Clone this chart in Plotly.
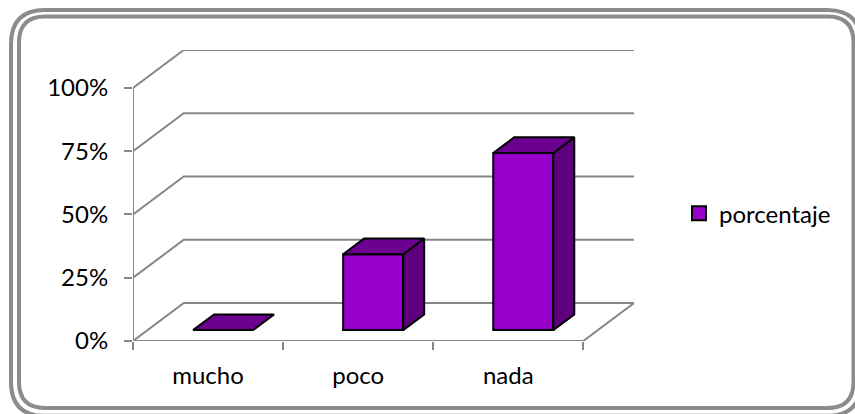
import plotly.graph_objects as go

# Chart data
categories = ["mucho", "poco", "nada"]
porcentaje = [0, 30, 70]
y_ticks = [0, 25, 50, 75, 100]
y_labels = ["0%", "25%", "50%", "75%", "100%"]
series_name = "porcentaje"

# Oblique projection of the chart box, in axis units
WALL_DX, WALL_DY = 0.338, 15.0
BAR_WIDTH = 0.40
BAR_SHIFT_X, BAR_BASE = 0.10, 4.3
BAR_DX, BAR_DY = 0.14, 6.2

GRID = "#868686"
FRONT, SIDE, TOP = "#9900CC", "#5E007E", "#6C008F"
FONT = "Lato"
FONT_SIZE = 24

W, H = 855, 414
M_L, M_R, M_T, M_B = 133, 221, 49.5, 73
n = len(categories)

fig = go.Figure()


def grid_path(xs, ys):
    """Polyline in data coordinates, drawn underneath the columns."""
    d = "M" + " L".join(f"{x},{y}" for x, y in zip(xs, ys))
    return dict(type="path", xref="x", yref="y", layer="below", path=d,
                line=dict(color=GRID, width=2))


# Back wall grid lines with their diagonal run over the side wall
grid = [grid_path([0, WALL_DX, n + WALL_DX], [t, t + WALL_DY, t + WALL_DY])
        for t in y_ticks]
# Left axis line and the front and right edges of the floor
grid.append(grid_path([0, 0], [0, y_ticks[-1]]))
grid.append(grid_path([0, n, n + WALL_DX], [0, 0, WALL_DY]))

# Front faces
centers = [i + 0.5 + BAR_SHIFT_X for i in range(n)]
fig.add_trace(go.Bar(
    x=centers, y=porcentaje, base=BAR_BASE, width=BAR_WIDTH, name=series_name,
    marker=dict(color=FRONT, line=dict(color="black", width=2)),
    hoverinfo="skip", showlegend=False))

# Side and top faces of each column
for c, v in zip(centers, porcentaje):
    x0, x1 = c - BAR_WIDTH / 2, c + BAR_WIDTH / 2
    y0, y1 = BAR_BASE, BAR_BASE + v
    if v > 0:
        fig.add_trace(go.Scatter(
            x=[x1, x1 + BAR_DX, x1 + BAR_DX, x1, x1],
            y=[y0, y0 + BAR_DY, y1 + BAR_DY, y1, y0],
            mode="lines", fill="toself", fillcolor=SIDE,
            line=dict(color="black", width=2),
            showlegend=False, hoverinfo="skip", cliponaxis=False))
    fig.add_trace(go.Scatter(
        x=[x0, x0 + BAR_DX, x1 + BAR_DX, x1, x0],
        y=[y1, y1 + BAR_DY, y1 + BAR_DY, y1, y1],
        mode="lines", fill="toself", fillcolor=TOP,
        line=dict(color="black", width=2),
        showlegend=False, hoverinfo="skip", cliponaxis=False))

# Legend key: a square swatch in the series colour
fig.add_trace(go.Scatter(
    x=[None], y=[None], mode="markers", name=series_name,
    marker=dict(symbol="square", size=14, color=FRONT,
                line=dict(color="black", width=2)),
    hoverinfo="skip", showlegend=True))


def px_x(p):
    return (p - M_L) / (W - M_L - M_R)


def px_y(p):
    return 1 - (p - M_T) / (H - M_T - M_B)


def rounded(x0, y0, x1, y1, r):
    """Rounded rectangle path given in window pixels, mapped to paper space."""
    pt = lambda x, y: f"{px_x(x):.5f},{px_y(y):.5f}"
    return (
        f"M{pt(x0 + r, y0)} L{pt(x1 - r, y0)} Q{pt(x1, y0)} {pt(x1, y0 + r)} "
        f"L{pt(x1, y1 - r)} Q{pt(x1, y1)} {pt(x1 - r, y1)} "
        f"L{pt(x0 + r, y1)} Q{pt(x0, y1)} {pt(x0, y1 - r)} "
        f"L{pt(x0, y0 + r)} Q{pt(x0, y0)} {pt(x0 + r, y0)} Z"
    )


# Double outline around the chart
frame = [
    dict(type="path", xref="paper", yref="paper", layer="below",
         path=rounded(*box), line=dict(color="#8C8C8C", width=4))
    for box in [(11, 9.5, 861, 416, 34), (19, 16, 853.5, 408, 26)]
]

fig.update_layout(
    width=W, height=H, autosize=False,
    margin=dict(l=M_L, r=M_R, t=M_T, b=M_B),
    paper_bgcolor="white", plot_bgcolor="rgba(0,0,0,0)",
    font=dict(family=FONT, size=FONT_SIZE, color="black"),
    barmode="overlay", shapes=frame + grid,
    legend=dict(x=px_x(679), y=px_y(191), xanchor="left", yanchor="top",
                bgcolor="rgba(0,0,0,0)", itemwidth=30,
                font=dict(family=FONT, size=FONT_SIZE)),
    xaxis=dict(range=[0, n + WALL_DX], showgrid=False, zeroline=False,
               showline=False, ticks="", tickvals=[i + 0.5 for i in range(n)],
               ticktext=categories, ticklabelstandoff=18,
               minor=dict(tickvals=list(range(n + 1)), ticks="outside",
                          ticklen=8, tickwidth=2, tickcolor=GRID)),
    yaxis=dict(range=[0, y_ticks[-1] + WALL_DY], showgrid=False, zeroline=False,
               showline=False, ticks="outside", ticklen=8, tickwidth=2,
               tickcolor=GRID, tickvals=y_ticks, ticktext=y_labels,
               ticklabelstandoff=11),
)

fig.write_html("out.html", config=dict(displayModeBar=False))
